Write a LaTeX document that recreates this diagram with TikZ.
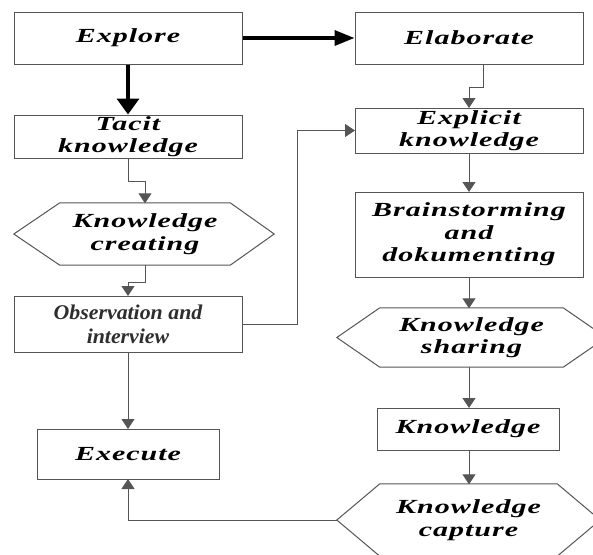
\documentclass[tikz,border=0pt]{standalone}
\usepackage{fontspec}
\setmainfont{Liberation Serif}
\newfontfamily\lblfont[FakeStretch=1.5,LetterSpace=5]{Liberation Serif}
\newfontfamily\obsfont[FakeStretch=1.04]{Liberation Serif}
\usetikzlibrary{arrows.meta}
\definecolor{edgegray}{HTML}{555555}
\definecolor{txtgray}{HTML}{2E2E2E}
\begin{document}
\begin{tikzpicture}[x=1pt,y=-1pt,
  box/.style={draw=edgegray,line width=1pt,rectangle,inner sep=0pt,align=center,
    font=\lblfont\bfseries\itshape\fontsize{20}{22.5}\selectfont},
  hexlbl/.style={inner sep=0pt,align=center,
    font=\lblfont\bfseries\itshape\fontsize{20}{22.5}\selectfont},
  conn/.style={draw=edgegray,line width=1pt,-{Triangle[width=13pt,length=10pt]},shorten >=-0.5pt},
  thickconn/.style={draw=black,line width=3.5pt},
  hexline/.style={draw=edgegray,line width=1pt}
]
\useasboundingbox (0,0) rectangle (593,554);
\clip (0,0) rectangle (593,554);
\fill[white] (0,0) rectangle (593,554);

% rectangles
\node[box,minimum width=228pt,minimum height=52pt] (explore) at (128,38) {Explore};
\node[box,minimum width=228pt,minimum height=52pt] (elab) at (469,38) {Elaborate};
\node[box,minimum width=228pt,minimum height=43pt] (tacit) at (128,136.5) {Tacit\\knowledge};
\node[box,minimum width=228pt,minimum height=56pt,font=\obsfont\bfseries\itshape\fontsize{21}{24}\selectfont,text=txtgray] (obs) at (128,324) {Observation and\\interview};
\node[box,minimum width=228pt,minimum height=45pt] (expl) at (469,130.5) {Explicit\\knowledge};
\node[box,minimum width=228pt,minimum height=85pt] (brain) at (469,234.5) {Brainstorming\\and\\dokumenting};
\node[box,minimum width=182pt,minimum height=42pt] (know) at (468,429) {Knowledge};
\node[box,minimum width=182pt,minimum height=50pt] (exec) at (128,454) {Execute};

% hexagons
\node[hexlbl,minimum width=170pt,minimum height=62pt] (kcre) at (145,234) {Knowledge\\creating};
\draw[hexline] (kcre.north west) -- (kcre.north east) -- ([xshift=44pt]kcre.east) -- (kcre.south east) -- (kcre.south west) -- ([xshift=-46pt]kcre.west) -- cycle;

\node[hexlbl,minimum width=183pt,minimum height=59pt] (kshr) at (471.5,337.5) {Knowledge\\sharing};
\draw[hexline] (kshr.north west) -- (kshr.north east) -- ([xshift=43pt]kshr.east) -- (kshr.south east) -- (kshr.south west) -- ([xshift=-43pt]kshr.west) -- cycle;

\node[hexlbl,minimum width=177pt,minimum height=72pt] (kcap) at (468.5,520) {Knowledge\\capture};
\draw[hexline] (kcap.north west) -- (kcap.north east) -- ([xshift=43pt]kcap.east) -- (kcap.south east) -- (kcap.south west) -- ([xshift=-43pt]kcap.west) -- cycle;
\coordinate (kcapL) at ([xshift=-43pt]kcap.west);

% thick arrows
\draw[thickconn,-{Triangle[width=15pt,length=20pt]}] (explore.east) -- (elab.west);
\draw[thickconn,-{Triangle[width=22pt,length=16pt]}] (explore.south) -- (tacit.north);

% thin connectors
\draw[conn] (tacit.south) -- ++(0,23) -| (kcre.north);
\draw[conn] (kcre.south) -- ++(0,17) -| (obs.north);
\draw[conn] (obs.east) -- (297,324) |- (expl.west);
\draw[conn] ([xshift=14pt]elab.south) -- ++(0,23) -| (expl.north);
\draw[conn] (expl.south) -- (brain.north);
\draw[conn] (brain.south) -- (brain.south |- kshr.north);
\draw[conn] (brain.south |- kshr.south) -- (brain.south |- know.north);
\draw[conn] (brain.south |- know.south) -- (brain.south |- kcap.north);
\draw[conn] (obs.south) -- (exec.north);
\draw[conn] (kcapL) -| (exec.south);
\end{tikzpicture}
\end{document}
